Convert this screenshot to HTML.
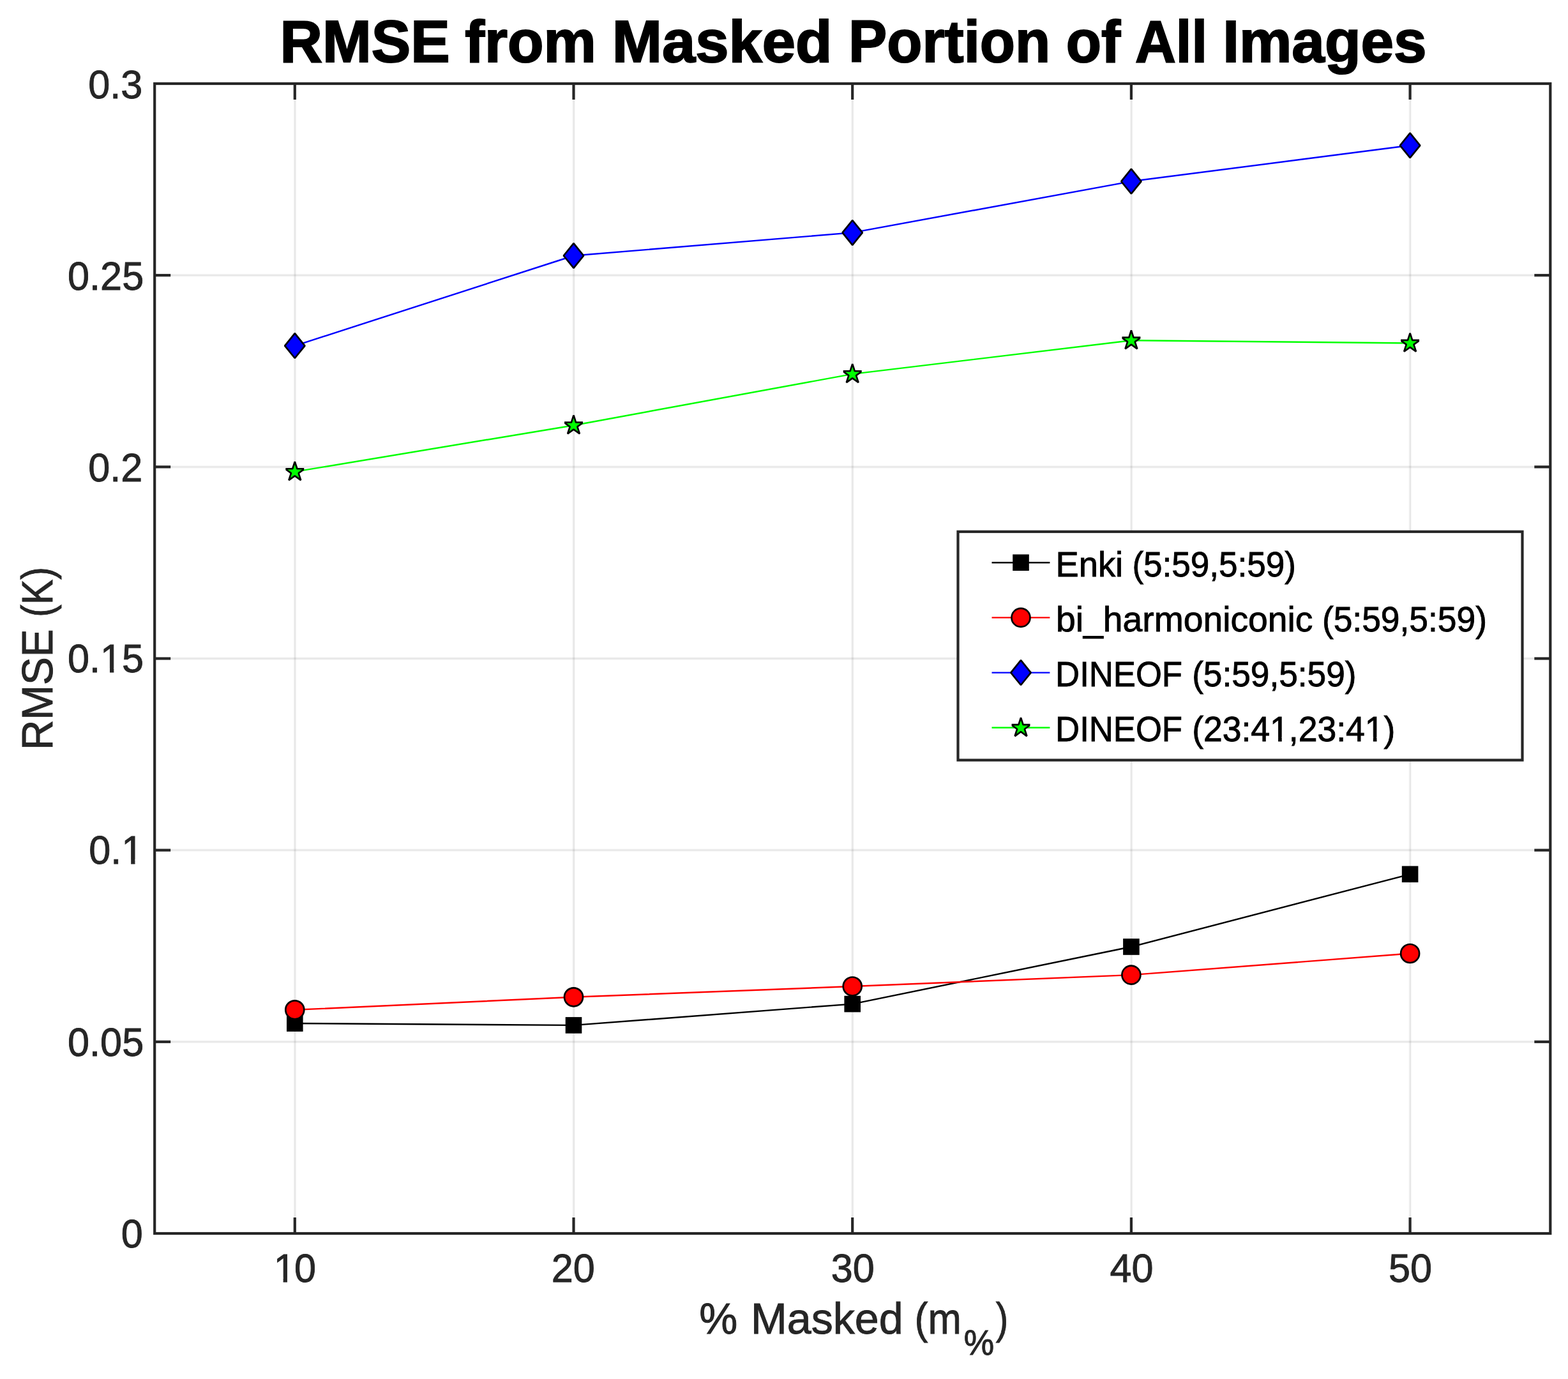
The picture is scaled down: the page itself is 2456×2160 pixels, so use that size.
<!DOCTYPE html>
<html lang="en"><head><meta charset="utf-8"><title>RMSE from Masked Portion of All Images</title>
<style>html,body{margin:0;padding:0;background:#fff;}body{width:2456px;height:2160px;overflow:hidden;}svg{display:block;}text{font-family:"Liberation Sans",sans-serif;}</style>
</head><body>
<svg width="2456" height="2160" viewBox="0 0 2456 2160" role="img" aria-label="RMSE from Masked Portion of All Images">
<defs>
<clipPath id="starclip"><rect x="-14.45" y="-17" width="28.9" height="34"/></clipPath>
<g id="star" clip-path="url(#starclip)"><polygon points="0,-15.7 3.59,-4.64 15.22,-4.64 5.81,2.19 9.4,13.24 0,6.41 -9.4,13.24 -5.81,2.19 -15.22,-4.64 -3.59,-4.64" fill="#00ff00" stroke="#000" stroke-width="2.7" stroke-linejoin="bevel"/></g>
<clipPath id="c0"><path clip-rule="evenodd" d="M396.94 -79.56 H525 V55.08 H396.94 Z M431.74 -6.74 H443.65 V1.95 H431.74 Z M449.93 -6.74 H461.35 V1.95 H449.93 Z"/></clipPath>
<clipPath id="c7"><path clip-rule="evenodd" d="M109.24 -79.56 H254.3 V55.08 H109.24 Z M193.26 -6.74 H205.17 V1.95 H193.26 Z M211.45 -6.74 H222.87 V1.95 H211.45 Z"/></clipPath>
<clipPath id="c8"><path clip-rule="evenodd" d="M76.09 -79.56 H255.18 V55.08 H76.09 Z M160.1 -6.74 H172.01 V1.95 H160.1 Z M178.3 -6.74 H189.72 V1.95 H178.3 Z"/></clipPath>
<clipPath id="c18"><path clip-rule="evenodd" d="M1623.13 -71.6 H2215.45 V49.57 H1623.13 Z M1991.5 -6.28 H2002.07 V1.95 H1991.5 Z M2007.68 -6.28 H2017.81 V1.95 H2007.68 Z M2140.26 -6.28 H2150.83 V1.95 H2140.26 Z M2156.44 -6.28 H2166.57 V1.95 H2156.44 Z"/></clipPath>
</defs>
<rect x="0" y="0" width="2456" height="2160" fill="#fff"/>
<g stroke="#262626" stroke-opacity="0.032" stroke-width="4.6" fill="none">
<line x1="462" y1="131" x2="462" y2="1932"/>
<line x1="898.7" y1="131" x2="898.7" y2="1932"/>
<line x1="1335.4" y1="131" x2="1335.4" y2="1932"/>
<line x1="1772.1" y1="131" x2="1772.1" y2="1932"/>
<line x1="2208.8" y1="131" x2="2208.8" y2="1932"/>
<line x1="242.2" y1="1631.83" x2="2428.3" y2="1631.83"/>
<line x1="242.2" y1="1331.67" x2="2428.3" y2="1331.67"/>
<line x1="242.2" y1="1031.5" x2="2428.3" y2="1031.5"/>
<line x1="242.2" y1="731.33" x2="2428.3" y2="731.33"/>
<line x1="242.2" y1="431.17" x2="2428.3" y2="431.17"/>
</g>
<g stroke="#262626" stroke-opacity="0.078" stroke-width="2.4" fill="none">
<line x1="462" y1="131" x2="462" y2="1932"/>
<line x1="898.7" y1="131" x2="898.7" y2="1932"/>
<line x1="1335.4" y1="131" x2="1335.4" y2="1932"/>
<line x1="1772.1" y1="131" x2="1772.1" y2="1932"/>
<line x1="2208.8" y1="131" x2="2208.8" y2="1932"/>
<line x1="242.2" y1="1631.83" x2="2428.3" y2="1631.83"/>
<line x1="242.2" y1="1331.67" x2="2428.3" y2="1331.67"/>
<line x1="242.2" y1="1031.5" x2="2428.3" y2="1031.5"/>
<line x1="242.2" y1="731.33" x2="2428.3" y2="731.33"/>
<line x1="242.2" y1="431.17" x2="2428.3" y2="431.17"/>
</g>
<polyline points="461.8,1603 898.5,1605.9 1335.2,1572.6 1771.9,1483 2208.6,1369.3" fill="none" stroke="#000000" stroke-width="2.4" stroke-linejoin="round"/>
<rect x="449" y="1590.2" width="25.6" height="25.6" fill="#000"/>
<rect x="885.7" y="1593.1" width="25.6" height="25.6" fill="#000"/>
<rect x="1322.4" y="1559.8" width="25.6" height="25.6" fill="#000"/>
<rect x="1759.1" y="1470.2" width="25.6" height="25.6" fill="#000"/>
<rect x="2195.8" y="1356.5" width="25.6" height="25.6" fill="#000"/>
<polyline points="461.8,1581.8 898.5,1561.8 1335.2,1545 1771.9,1527.1 2208.6,1493.5" fill="none" stroke="#ff0000" stroke-width="2.4" stroke-linejoin="round"/>
<circle cx="461.8" cy="1581.8" r="14.5" fill="#ff0000" stroke="#000" stroke-width="2.7"/>
<circle cx="898.5" cy="1561.8" r="14.5" fill="#ff0000" stroke="#000" stroke-width="2.7"/>
<circle cx="1335.2" cy="1545" r="14.5" fill="#ff0000" stroke="#000" stroke-width="2.7"/>
<circle cx="1771.9" cy="1527.1" r="14.5" fill="#ff0000" stroke="#000" stroke-width="2.7"/>
<circle cx="2208.6" cy="1493.5" r="14.5" fill="#ff0000" stroke="#000" stroke-width="2.7"/>
<polyline points="461.8,541.6 898.5,400.5 1335.2,364.4 1771.9,284.1 2208.6,227.8" fill="none" stroke="#0000ff" stroke-width="2.4" stroke-linejoin="round"/>
<polygon points="461.8,522.2 477.5,541.6 461.8,561 446.1,541.6" fill="#0000ff" stroke="#000" stroke-width="2.7" stroke-linejoin="bevel"/>
<polygon points="898.5,381.1 914.2,400.5 898.5,419.9 882.8,400.5" fill="#0000ff" stroke="#000" stroke-width="2.7" stroke-linejoin="bevel"/>
<polygon points="1335.2,345 1350.9,364.4 1335.2,383.8 1319.5,364.4" fill="#0000ff" stroke="#000" stroke-width="2.7" stroke-linejoin="bevel"/>
<polygon points="1771.9,264.7 1787.6,284.1 1771.9,303.5 1756.2,284.1" fill="#0000ff" stroke="#000" stroke-width="2.7" stroke-linejoin="bevel"/>
<polygon points="2208.6,208.4 2224.3,227.8 2208.6,247.2 2192.9,227.8" fill="#0000ff" stroke="#000" stroke-width="2.7" stroke-linejoin="bevel"/>
<polyline points="461.8,738.9 898.5,666.2 1335.2,585.9 1771.9,533.2 2208.6,537.5" fill="none" stroke="#00ff00" stroke-width="2.4" stroke-linejoin="round"/>
<use href="#star" x="461.8" y="738.9"/>
<use href="#star" x="898.5" y="666.2"/>
<use href="#star" x="1335.2" y="585.9"/>
<use href="#star" x="1771.9" y="533.2"/>
<use href="#star" x="2208.6" y="537.5"/>
<g stroke="#262626" stroke-width="4.2" fill="none">
<line x1="461.8" y1="1932" x2="461.8" y2="1907"/>
<line x1="461.8" y1="131" x2="461.8" y2="156"/>
<line x1="898.5" y1="1932" x2="898.5" y2="1907"/>
<line x1="898.5" y1="131" x2="898.5" y2="156"/>
<line x1="1335.2" y1="1932" x2="1335.2" y2="1907"/>
<line x1="1335.2" y1="131" x2="1335.2" y2="156"/>
<line x1="1771.9" y1="1932" x2="1771.9" y2="1907"/>
<line x1="1771.9" y1="131" x2="1771.9" y2="156"/>
<line x1="2208.6" y1="1932" x2="2208.6" y2="1907"/>
<line x1="2208.6" y1="131" x2="2208.6" y2="156"/>
<line x1="242.2" y1="1631.83" x2="267.2" y2="1631.83"/>
<line x1="2428.3" y1="1631.83" x2="2403.3" y2="1631.83"/>
<line x1="242.2" y1="1331.67" x2="267.2" y2="1331.67"/>
<line x1="2428.3" y1="1331.67" x2="2403.3" y2="1331.67"/>
<line x1="242.2" y1="1031.5" x2="267.2" y2="1031.5"/>
<line x1="2428.3" y1="1031.5" x2="2403.3" y2="1031.5"/>
<line x1="242.2" y1="731.33" x2="267.2" y2="731.33"/>
<line x1="2428.3" y1="731.33" x2="2403.3" y2="731.33"/>
<line x1="242.2" y1="431.17" x2="267.2" y2="431.17"/>
<line x1="2428.3" y1="431.17" x2="2403.3" y2="431.17"/>
<rect x="242.2" y="131" width="2186.1" height="1801"/>
</g>
<text transform="translate(0 2008.3) scale(1 1.015)" font-size="61.2" fill="#262626" stroke="#262626" stroke-width="0.9" stroke-linejoin="miter" stroke-miterlimit="3" clip-path="url(#c0)"><tspan x="428.74" y="0">1</tspan><tspan x="460.95" y="0">0</tspan></text>
<text transform="translate(0 2008.3) scale(1 1.015)" font-size="61.2" fill="#262626" stroke="#262626" stroke-width="0.9" stroke-linejoin="miter" stroke-miterlimit="3"><tspan x="863.64" y="0">20</tspan></text>
<text transform="translate(0 2008.3) scale(1 1.015)" font-size="61.2" fill="#262626" stroke="#262626" stroke-width="0.9" stroke-linejoin="miter" stroke-miterlimit="3"><tspan x="1301.74" y="0">30</tspan></text>
<text transform="translate(0 2008.3) scale(1 1.015)" font-size="61.2" fill="#262626" stroke="#262626" stroke-width="0.9" stroke-linejoin="miter" stroke-miterlimit="3"><tspan x="1738.44" y="0">40</tspan></text>
<text transform="translate(0 2008.3) scale(1 1.015)" font-size="61.2" fill="#262626" stroke="#262626" stroke-width="0.9" stroke-linejoin="miter" stroke-miterlimit="3"><tspan x="2174.94" y="0">50</tspan></text>
<text transform="translate(0 1953.6) scale(1 1.015)" font-size="61.2" fill="#262626" stroke="#262626" stroke-width="0.9" stroke-linejoin="miter" stroke-miterlimit="3"><tspan x="189.84" y="0">0</tspan></text>
<text transform="translate(0 1653.6) scale(1 1.015)" font-size="61.2" fill="#262626" stroke="#262626" stroke-width="0.9" stroke-linejoin="miter" stroke-miterlimit="3"><tspan x="106.09" y="0">0.05</tspan></text>
<text transform="translate(0 1353.4) scale(1 1.015)" font-size="61.2" fill="#262626" stroke="#262626" stroke-width="0.9" stroke-linejoin="miter" stroke-miterlimit="3" clip-path="url(#c7)"><tspan x="139.24" y="0">0.</tspan><tspan x="190.25" y="0">1</tspan></text>
<text transform="translate(0 1053.4) scale(1 1.015)" font-size="61.2" fill="#262626" stroke="#262626" stroke-width="0.9" stroke-linejoin="miter" stroke-miterlimit="3" clip-path="url(#c8)"><tspan x="106.09" y="0">0.</tspan><tspan x="157.1" y="0">1</tspan><tspan x="191.13" y="0">5</tspan></text>
<text transform="translate(0 754.3) scale(1 1.015)" font-size="61.2" fill="#262626" stroke="#262626" stroke-width="0.9" stroke-linejoin="miter" stroke-miterlimit="3"><tspan x="138.2" y="0">0.2</tspan></text>
<text transform="translate(0 454.3) scale(1 1.015)" font-size="61.2" fill="#262626" stroke="#262626" stroke-width="0.9" stroke-linejoin="miter" stroke-miterlimit="3"><tspan x="106.09" y="0">0.25</tspan></text>
<text transform="translate(0 154.4) scale(1 1.015)" font-size="61.2" fill="#262626" stroke="#262626" stroke-width="0.9" stroke-linejoin="miter" stroke-miterlimit="3"><tspan x="138.18" y="0">0.3</tspan></text>
<text transform="translate(0 97.3) scale(1 1.015)" font-size="91.8" font-weight="bold" fill="#000" stroke="#000" stroke-width="2" stroke-linejoin="miter" stroke-miterlimit="3"><tspan x="438.52" y="0" textLength="266.18" lengthAdjust="spacingAndGlyphs">RMSE</tspan> <tspan x="728.13" y="0" textLength="205.64" lengthAdjust="spacingAndGlyphs">from</tspan> <tspan x="958.82" y="0" textLength="344.51" lengthAdjust="spacingAndGlyphs">Masked</tspan> <tspan x="1329.12" y="0" textLength="315.94" lengthAdjust="spacingAndGlyphs">Portion</tspan> <tspan x="1669.73" y="0" textLength="85.4" lengthAdjust="spacingAndGlyphs">of</tspan> <tspan x="1778.01" y="0" textLength="112.96" lengthAdjust="spacingAndGlyphs">All</tspan> <tspan x="1915.19" y="0" textLength="319.51" lengthAdjust="spacingAndGlyphs">Images</tspan></text>
<text transform="translate(0 2088.55) scale(1 1.015)" font-size="67.32" fill="#262626" stroke="#262626" stroke-width="0.9" stroke-linejoin="miter" stroke-miterlimit="3"><tspan x="1095.25" y="0" textLength="60" lengthAdjust="spacingAndGlyphs">%</tspan> <tspan x="1176.09" y="0" textLength="238.55" lengthAdjust="spacingAndGlyphs">Masked</tspan> <tspan x="1432.61" y="0" textLength="73.3" lengthAdjust="spacingAndGlyphs">(m</tspan><tspan x="1509.74" y="33.1" font-size="53.86" textLength="47.45" lengthAdjust="spacingAndGlyphs">%</tspan><tspan x="1559.67" y="0" textLength="19.56" lengthAdjust="spacingAndGlyphs">)</tspan></text>
<text transform="translate(82.15 1170.2) rotate(-90) scale(1 1.015)" font-size="67.32" fill="#262626" stroke="#262626" stroke-width="0.9" stroke-linejoin="miter" stroke-miterlimit="3"><tspan x="-4.93" y="0" textLength="189.7" lengthAdjust="spacingAndGlyphs">RMSE</tspan> <tspan x="203.52" y="0" textLength="78.71" lengthAdjust="spacingAndGlyphs">(K)</tspan></text>
<rect x="1500.5" y="832.8" width="884" height="357.8" fill="#fff" stroke="#262626" stroke-width="4.2"/>
<line x1="1553.5" y1="881.2" x2="1644.4" y2="881.2" stroke="#000000" stroke-width="2.4"/>
<rect x="1586.2" y="868.4" width="25.6" height="25.6" fill="#000"/>
<line x1="1553.5" y1="967.4" x2="1644.4" y2="967.4" stroke="#ff0000" stroke-width="2.4"/>
<circle cx="1599" cy="967.4" r="14.5" fill="#ff0000" stroke="#000" stroke-width="2.7"/>
<line x1="1553.5" y1="1053.6" x2="1644.4" y2="1053.6" stroke="#0000ff" stroke-width="2.4"/>
<polygon points="1599,1034.2 1614.7,1053.6 1599,1073 1583.3,1053.6" fill="#0000ff" stroke="#000" stroke-width="2.7" stroke-linejoin="bevel"/>
<line x1="1553.5" y1="1139.8" x2="1644.4" y2="1139.8" stroke="#00ff00" stroke-width="2.4"/>
<use href="#star" x="1599" y="1139.8"/>
<text transform="translate(0 902.75) scale(1 1.015)" font-size="55.08" fill="#000" stroke="#000" stroke-width="0.9" stroke-linejoin="miter" stroke-miterlimit="3"><tspan x="1653.61" y="0" textLength="105.53" lengthAdjust="spacingAndGlyphs">Enki</tspan> <tspan x="1773.46" y="0" textLength="256.59" lengthAdjust="spacingAndGlyphs">(5:59,5:59)</tspan></text>
<text transform="translate(0 988.8) scale(1 1.015)" font-size="55.08" fill="#000" stroke="#000" stroke-width="0.9" stroke-linejoin="miter" stroke-miterlimit="3"><tspan x="1654.1" y="0" textLength="402.33" lengthAdjust="spacingAndGlyphs">bi_harmoniconic</tspan> <tspan x="2070.94" y="0" textLength="258.02" lengthAdjust="spacingAndGlyphs">(5:59,5:59)</tspan></text>
<text transform="translate(0 1074.85) scale(1 1.015)" font-size="55.08" fill="#000" stroke="#000" stroke-width="0.9" stroke-linejoin="miter" stroke-miterlimit="3"><tspan x="1653.13" y="0" textLength="198.89" lengthAdjust="spacingAndGlyphs">DINEOF</tspan> <tspan x="1867.15" y="0" textLength="257.41" lengthAdjust="spacingAndGlyphs">(5:59,5:59)</tspan></text>
<text transform="translate(0 1160.9) scale(1 1.015)" font-size="55.08" fill="#000" stroke="#000" stroke-width="0.9" stroke-linejoin="miter" stroke-miterlimit="3" clip-path="url(#c18)"><tspan x="1653.13" y="0" textLength="198.89" lengthAdjust="spacingAndGlyphs">DINEOF</tspan> <tspan x="1867.14" y="0" textLength="121.95" lengthAdjust="spacingAndGlyphs">(23:4</tspan><tspan x="1989.09" y="0" textLength="29.75" lengthAdjust="spacingAndGlyphs">1</tspan><tspan x="2018.84" y="0" textLength="119.01" lengthAdjust="spacingAndGlyphs">,23:4</tspan><tspan x="2137.85" y="0" textLength="29.77" lengthAdjust="spacingAndGlyphs">1</tspan><tspan x="2167.61" y="0" textLength="17.84" lengthAdjust="spacingAndGlyphs">)</tspan></text>
</svg>
</body></html>
